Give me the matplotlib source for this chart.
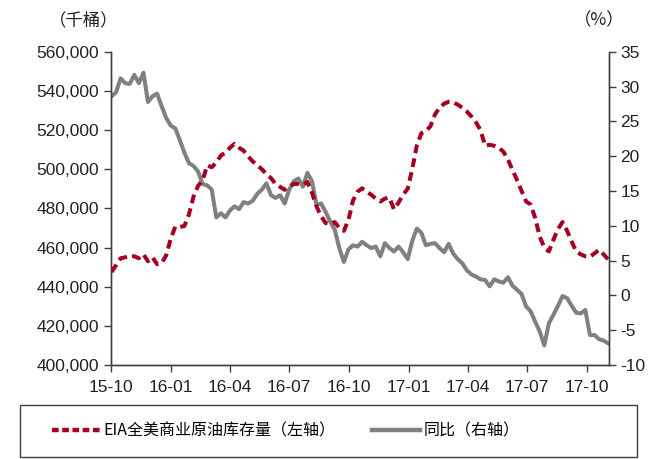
import numpy as np
import pandas as pd
import matplotlib
matplotlib.use('Agg')
import matplotlib.pyplot as plt
import matplotlib.dates as mdates
from matplotlib.ticker import FuncFormatter, MultipleLocator
from matplotlib.lines import Line2D
from matplotlib.patches import Rectangle

plt.rcParams['font.family'] = ['Liberation Sans', 'Noto Sans CJK SC', 'DejaVu Sans']
plt.rcParams['axes.unicode_minus'] = False

# 周度数据, 2015-10-02 起
kucun = [447.5, 451, 454.5, 455, 455.7, 455.5, 454.5, 456.5, 453, 455,
         451.5, 452, 456, 464.5, 470.7, 470.5, 471, 477, 486, 491.5,
         494.5, 502, 501, 503.5, 507, 508.5, 511, 513, 511, 509.5,
         506.5, 504, 502, 500, 497.5, 495.5, 492.5, 491, 489.5, 491,
         492.5, 492.5, 492, 493.5, 488, 481, 476, 472.5, 472, 473,
         470, 468.5, 474, 484, 488.5, 490.3, 488.5, 487, 485, 483.5,
         485, 485.5, 479.5, 483, 487, 490, 500, 512, 518.4, 519.5,
         522, 528, 531.5, 533.5, 534.5, 534.3, 533, 531.5, 529.5, 527,
         524, 520, 512, 512.5, 512, 511, 509, 505, 499.7, 494.5,
         489, 483.5, 482, 475, 465.5, 460, 458, 464, 469.5, 473,
         468.5, 463, 458, 456.5, 455.5, 455.3, 457, 458.8, 456.5, 454]
kucun = [v * 1000 for v in kucun]

tongbi = [28.6, 29.2, 31.2, 30.5, 30.4, 31.7, 30.5, 32.0, 27.8, 28.6,
          29.0, 27.2, 25.5, 24.4, 24.0, 22.3, 20.5, 19.0, 18.6, 17.8,
          16.0, 15.8, 15.2, 11.2, 11.8, 11.2, 12.2, 12.8, 12.4, 13.4,
          13.2, 13.6, 14.6, 15.2, 16.1, 14.4, 14.0, 14.4, 13.2, 15.2,
          16.4, 16.8, 15.6, 17.6, 16.4, 13.0, 13.2, 12.0, 10.6, 9.4,
          6.8, 4.8, 6.6, 7.2, 7.0, 7.7, 7.2, 6.8, 7.0, 5.6,
          7.5, 6.8, 6.3, 7.0, 6.2, 5.2, 7.8, 9.6, 9.0, 7.2,
          7.4, 7.5, 6.8, 6.2, 7.4, 6.0, 5.2, 4.6, 3.6, 3.0,
          2.7, 2.3, 2.2, 1.3, 2.3, 2.0, 1.8, 2.6, 1.4, 0.8,
          0.2, -1.6, -2.3, -3.8, -5.2, -7.2, -4.0, -2.8, -1.5, -0.1,
          -0.4, -1.5, -2.5, -2.6, -2.1, -5.7, -5.7, -6.3, -6.5, -6.9]

dates = pd.date_range('2015-10-02', periods=len(kucun), freq='7D')

fig = plt.figure(figsize=(6.56, 4.59), dpi=100)
ax = fig.add_axes([0.169, 0.205, 0.759, 0.682])
ax2 = ax.twinx()

red = '#A50021'
grey = '#808080'

ax2.plot(dates, tongbi, color=grey, lw=2.9, zorder=2)
ax.plot(dates, kucun, color=red, lw=2.9, dashes=(2.2, 1.3), zorder=3)
ax.set_zorder(ax2.get_zorder() + 1)
ax.patch.set_visible(False)

ax.set_ylim(400000, 560000)
ax.yaxis.set_major_locator(MultipleLocator(20000))
ax.yaxis.set_major_formatter(FuncFormatter(lambda v, p: f'{int(v):,}'))
ax2.set_ylim(-10, 35)
ax2.yaxis.set_major_locator(MultipleLocator(5))

ax.set_xlim(pd.Timestamp('2015-10-01'), dates[-1] + pd.Timedelta(days=1))
ax.xaxis.set_major_locator(mdates.MonthLocator(bymonth=[1, 4, 7, 10]))
ax.xaxis.set_major_formatter(mdates.DateFormatter('%y-%m'))

for a in (ax, ax2):
    a.spines['top'].set_visible(False)
    for s in a.spines.values():
        s.set_color('#404040')
        s.set_linewidth(1)
    a.tick_params(direction='out', length=5, width=1, color='#404040',
                  labelsize=12.5, labelcolor='#222222')
ax.tick_params(axis='x', pad=6)

fig.text(0.075, 0.955, '（千桶）', fontsize=12.5, family=['Noto Sans CJK SC'],
         color='#222222', va='center')
fig.text(0.875, 0.955, '（%）', fontsize=12.5, family=['Noto Sans CJK SC'],
         color='#222222', va='center')

handles = [Line2D([], [], color=red, lw=3.2, dashes=(1.5, 0.8)),
           Line2D([], [], color=grey, lw=3.2)]
labels = ['EIA全美商业原油库存量（左轴）', '同比（右轴）']
fig.legend(handles, labels, loc='center left', bbox_to_anchor=(0.058, 0.06),
           ncol=2, frameon=False, handlelength=3.0, handletextpad=0.2,
           columnspacing=2.3, prop={'family': ['Noto Sans CJK SC'], 'size': 11.5})
fig.patches.append(Rectangle((0.03, 0.005), 0.941, 0.113, transform=fig.transFigure,
                             fill=False, edgecolor='#404040', lw=1))

plt.savefig('out.png', dpi=100)
